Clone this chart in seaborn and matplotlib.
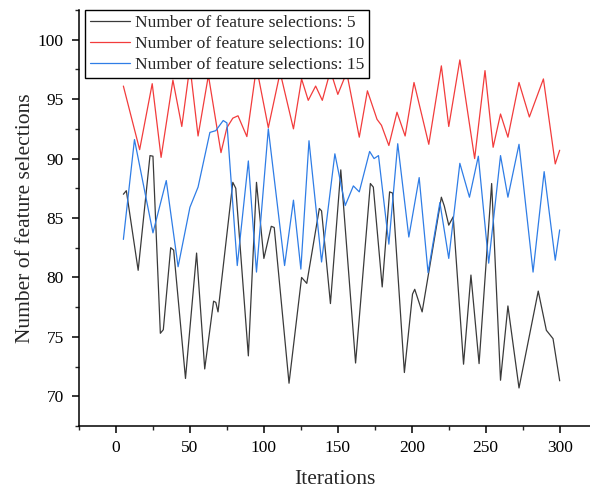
import matplotlib
matplotlib.use("Agg")
import matplotlib.pyplot as plt
import seaborn as sns
import pandas as pd
from matplotlib.ticker import MultipleLocator
from matplotlib.lines import Line2D

# ---- data ----
labels = ["Number of feature selections: 5",
          "Number of feature selections: 10",
          "Number of feature selections: 15"]

it_5 = [5, 7, 15, 23, 25, 30, 32, 37, 39, 47, 54.5, 60, 66, 67.5, 69, 79, 81, 89.5, 95,
        100, 105, 107, 117, 125.5, 129, 137.5, 139, 145, 152, 162, 172, 174, 180, 185,
        187, 195, 200.5, 202, 207, 220, 222, 225, 228, 235, 240, 245.5, 254, 260, 265,
        272.5, 285.5, 291, 295.5, 300]
val_5 = [87.0, 87.3, 80.6, 90.25, 90.2, 75.3, 75.6, 82.5, 82.3, 71.5, 82.05, 72.3, 78.0,
         77.9, 77.1, 88.0, 87.5, 73.4, 88.0, 81.6, 84.3, 84.2, 71.1, 80.0, 79.5, 85.8,
         85.6, 77.8, 89.05, 72.8, 87.9, 87.6, 79.2, 87.2, 87.1, 72.0, 78.6, 79.0, 77.1,
         86.75, 86.0, 84.4, 85.1, 72.7, 80.2, 72.75, 87.9, 71.35, 77.6, 70.7, 78.85,
         75.55, 74.85, 71.3]

it_10 = [5, 16, 24.5, 30.5, 38.5, 44.5, 50, 55.5, 62.5, 71, 75, 79, 82.5, 88.5, 95, 103,
         111, 120, 125.5, 130, 135, 139.5, 145, 150, 156, 164.5, 170, 176.5, 179.5,
         184.5, 190, 195.5, 201.5, 211.5, 220, 225, 232.5, 242.5, 249.5, 255, 260, 265,
         272.5, 279.5, 289, 297, 300]
val_10 = [96.1, 90.75, 96.3, 90.1, 96.6, 92.7, 97.8, 91.9, 97.0, 90.5, 92.6, 93.4, 93.6,
          91.85, 97.7, 92.6, 97.25, 92.5, 96.7, 94.9, 96.1, 94.9, 97.4, 95.4, 97.25,
          91.8, 95.7, 93.3, 92.8, 91.1, 93.9, 91.9, 96.4, 91.2, 97.8, 92.7, 98.3, 90.0,
          97.4, 90.95, 93.75, 91.8, 96.4, 93.5, 96.7, 89.55, 90.7]

it_15 = [5, 12.5, 25, 34, 42, 50, 55.5, 63.5, 67.5, 72.5, 75, 82, 89.5, 95, 103, 114,
         120, 125, 130.5, 139, 148, 155, 160.5, 164.5, 171.5, 174.5, 177.5, 184.5,
         190.5, 198, 205, 211, 219, 225, 232.5, 239, 245, 252, 260, 265, 272.5, 282,
         289.5, 297, 300]
val_15 = [83.2, 91.6, 83.75, 88.15, 80.9, 85.9, 87.6, 92.2, 92.35, 93.2, 93.0, 81.0,
          89.8, 80.45, 92.5, 81.0, 86.5, 80.7, 91.5, 81.3, 90.4, 86.05, 87.7, 87.2,
          90.6, 90.0, 90.25, 82.8, 91.25, 83.4, 88.4, 80.4, 86.3, 81.6, 89.6, 86.75,
          90.2, 81.2, 90.25, 86.75, 91.2, 80.45, 88.9, 81.45, 84.0]

x_ticks = [0, 50, 100, 150, 200, 250, 300]
y_ticks = [70, 75, 80, 85, 90, 95, 100]
x_label = "Iterations"
y_label = "Number of feature selections"

colors = ["#3a3a3a", "#f23c3c", "#2f7de6"]

df = pd.concat([
    pd.DataFrame({"it": it_5, "val": val_5, "series": labels[0]}),
    pd.DataFrame({"it": it_10, "val": val_10, "series": labels[1]}),
    pd.DataFrame({"it": it_15, "val": val_15, "series": labels[2]}),
])

sns.set_theme(style="ticks")
plt.rcParams["font.family"] = ["Liberation Serif", "DejaVu Serif"]

fig = plt.figure(figsize=(5.9, 4.92), dpi=100)
ax = fig.add_axes([79 / 590, 1 - 426 / 492, (590 - 79) / 590, (426 - 10) / 492])

sns.lineplot(data=df, x="it", y="val", hue="series", palette=dict(zip(labels, colors)),
             linewidth=0.9, ax=ax, legend=False, sort=True, estimator=None)

ax.set_xlim(-25, 320.5)
ax.set_ylim(67.5, 102.5)
ax.set_xticks(x_ticks)
ax.set_yticks(y_ticks)
ax.xaxis.set_minor_locator(MultipleLocator(25))
ax.yaxis.set_minor_locator(MultipleLocator(2.5))
ax.tick_params(axis="both", which="major", direction="out", length=5, width=1.1,
               labelsize=12.5, colors="black")
ax.tick_params(axis="x", which="major", pad=5)
ax.tick_params(axis="y", which="major", pad=6)
ax.tick_params(axis="both", which="minor", direction="out", length=3, width=1.0)
for s in ["top", "right"]:
    ax.spines[s].set_visible(False)
for s in ["left", "bottom"]:
    ax.spines[s].set_linewidth(1.1)
    ax.spines[s].set_color("black")

ax.set_xlabel(x_label, fontsize=15.5, labelpad=10)
ax.set_ylabel(y_label, fontsize=15.5, labelpad=2)

handles = [Line2D([], [], color=c, linewidth=0.9) for c in colors]
leg = ax.legend(handles, labels, loc="upper left", bbox_to_anchor=(0.0117, 1.0),
                borderaxespad=0, fontsize=12.6, frameon=True, fancybox=False,
                edgecolor="black", framealpha=1, handlelength=2.3, handletextpad=0.25,
                labelspacing=0.28, borderpad=0.28)
leg.get_frame().set_linewidth(1.0)

fig.savefig("out.png", dpi=100)
